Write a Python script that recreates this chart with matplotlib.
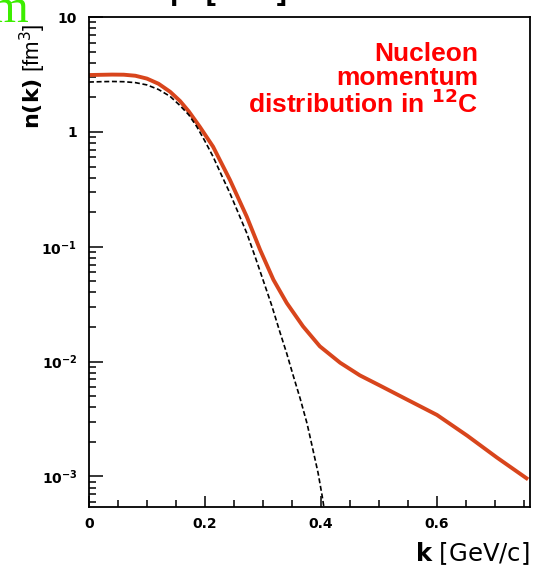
import numpy as np
import matplotlib.pyplot as plt
from matplotlib.ticker import LogLocator, MultipleLocator, FixedLocator, FuncFormatter, NullFormatter

plt.rcParams['font.family'] = ['Liberation Sans', 'DejaVu Sans']
plt.rcParams['mathtext.fontset'] = 'dejavusans'

# full calculation (solid) and mean-field part (dashed), log10 of n(k) in fm^3
k_full = [0.0, 0.02, 0.04, 0.06, 0.08, 0.10, 0.12, 0.14, 0.157, 0.172, 0.191, 0.214,
          0.243, 0.272, 0.295, 0.318, 0.341, 0.369, 0.398, 0.433, 0.467, 0.502, 0.548,
          0.60, 0.652, 0.703, 0.757]
logn_full = [0.496, 0.498, 0.500, 0.499, 0.490, 0.465, 0.42, 0.35, 0.27, 0.18, 0.046,
             -0.128, -0.417, -0.737, -1.026, -1.287, -1.49, -1.693, -1.867, -2.01,
             -2.12, -2.21, -2.33, -2.465, -2.645, -2.835, -3.026]

k_mf = [0.0, 0.02, 0.04, 0.06, 0.08, 0.10, 0.12, 0.14, 0.157, 0.172, 0.186, 0.20,
        0.214, 0.228, 0.243, 0.257, 0.272, 0.286, 0.30, 0.315, 0.329, 0.341, 0.352,
        0.364, 0.376, 0.386, 0.395, 0.402, 0.406]
logn_mf = [0.435, 0.438, 0.440, 0.438, 0.430, 0.41, 0.37, 0.31, 0.23, 0.15, 0.046,
           -0.08, -0.215, -0.37, -0.533, -0.70, -0.88, -1.08, -1.287, -1.51, -1.74,
           -1.93, -2.12, -2.32, -2.54, -2.765, -2.97, -3.17, -3.30]

ylabels = {10: '10', 1: '1', 0.1: r'$\mathbf{10^{-1}}$', 0.01: r'$\mathbf{10^{-2}}$',
           0.001: r'$\mathbf{10^{-3}}$'}

fig = plt.figure(figsize=(5.39, 5.73), dpi=100)
ax = fig.add_axes([0.165, 0.115, 0.818, 0.855])

ax.plot(k_full, 10 ** np.array(logn_full), color='#d8451c', lw=2.8, solid_capstyle='butt')
ax.plot(k_mf, 10 ** np.array(logn_mf), color='black', lw=1.2, ls=(0, (3, 1.6)))

ax.set_yscale('log')
ax.set_xlim(0, 0.76)
ax.set_ylim(5.4e-4, 10)

ax.xaxis.set_major_locator(MultipleLocator(0.2))
ax.xaxis.set_minor_locator(MultipleLocator(0.05))
ax.xaxis.set_major_formatter(FuncFormatter(lambda v, p: '0' if v == 0 else f'{v:.1f}'))
ax.yaxis.set_major_locator(FixedLocator([1e-3, 1e-2, 1e-1, 1, 10]))
ax.yaxis.set_minor_locator(LogLocator(base=10, subs=np.arange(2, 10)))
ax.yaxis.set_minor_formatter(NullFormatter())
ax.yaxis.set_major_formatter(FuncFormatter(
    lambda v, p: next((t for key, t in ylabels.items() if abs(v / key - 1) < 1e-6), '')))

ax.tick_params(which='both', direction='in', top=False, right=False, width=1.1)
ax.tick_params(axis='y', which='major', length=10, pad=8.5)
ax.tick_params(axis='x', which='major', length=8, pad=7)
ax.tick_params(which='minor', length=5)
for lab in ax.get_xticklabels() + ax.get_yticklabels():
    lab.set_family('DejaVu Sans')
    lab.set_fontweight('bold')
    lab.set_fontsize(10)
for s in ax.spines.values():
    s.set_linewidth(1.3)

ax.set_ylabel(r'$\mathbf{n(k)}$ [fm$^3$]', fontsize=16)
ax.yaxis.set_label_coords(-0.093, 0.88)
ax.set_xlabel(r'$\mathbf{k}$ [GeV/c]', fontsize=17.5, family='DejaVu Sans', ha='right')
ax.xaxis.set_label_coords(1.0, -0.068)

ax.text(0.882, 0.949, 'Nucleon\nmomentum\ndistribution in $^{\\mathbf{12}}$C',
        transform=ax.transAxes, ha='right', va='top', color='#ff0000', fontsize=19,
        fontweight='bold', linespacing=0.98)

# bits of the slide page above the plot
fig.text(-9 / 539, 1 - 22 / 573, 'm', family='Liberation Serif', color='#3cee00',
         fontsize=35, va='baseline')
fig.text(170 / 539, 1 + 1 / 573, 'p  [GeV]', fontsize=22, fontweight='bold',
         va='baseline')

fig.savefig('out.png', dpi=100)
